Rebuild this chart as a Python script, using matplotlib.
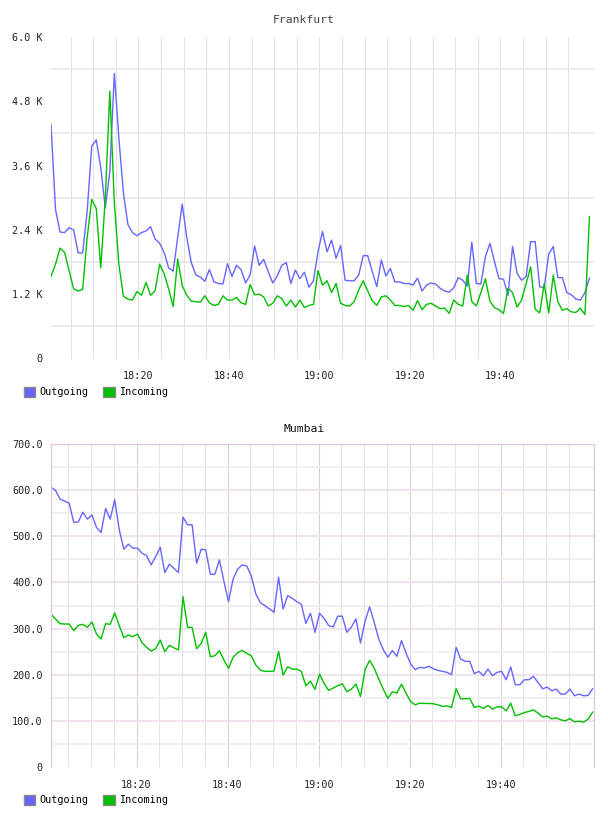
import pandas as pd
import matplotlib
matplotlib.use("Agg")
import matplotlib.pyplot as plt
from matplotlib.patches import Patch

# Frankfurt traffic, in K
frankfurt_out = [4.37, 2.78, 2.36, 2.35, 2.44, 2.40, 1.97, 1.97, 2.75, 3.96, 4.08, 3.56, 2.81, 3.49, 5.32,
                 4.11, 3.09, 2.50, 2.35, 2.29, 2.35, 2.38, 2.46, 2.23, 2.15, 1.98, 1.69, 1.63, 2.26, 2.88,
                 2.26, 1.79, 1.56, 1.52, 1.44, 1.66, 1.43, 1.40, 1.39, 1.77, 1.53,
                 1.74, 1.66, 1.41, 1.56, 2.10, 1.74, 1.85, 1.62, 1.41, 1.54, 1.74, 1.79, 1.40, 1.65, 1.49,
                 1.61, 1.33, 1.45, 1.99, 2.37, 1.99, 2.21, 1.87, 2.11, 1.46, 1.45, 1.45, 1.56, 1.92, 1.92,
                 1.62, 1.34, 1.84, 1.54, 1.68, 1.43, 1.43, 1.40, 1.40, 1.37,
                 1.50, 1.26, 1.37, 1.41, 1.39, 1.31, 1.26, 1.24, 1.32, 1.51, 1.46, 1.35, 2.17, 1.40, 1.39,
                 1.90, 2.15, 1.81, 1.49, 1.48, 1.18, 2.09, 1.59, 1.46, 1.53, 2.18, 2.18, 1.34, 1.32, 1.95,
                 2.09, 1.51, 1.51, 1.23, 1.19, 1.11, 1.09, 1.23, 1.50]
frankfurt_in = [1.53, 1.76, 2.06, 1.98, 1.64, 1.30, 1.26, 1.29, 2.26, 2.97, 2.80, 1.69, 3.00, 4.99, 2.90,
                1.76, 1.16, 1.11, 1.09, 1.25, 1.18, 1.42, 1.18, 1.26, 1.76, 1.58, 1.30, 0.97, 1.86, 1.36,
                1.18, 1.07, 1.06, 1.05, 1.17, 1.04, 0.99, 1.01, 1.17, 1.09, 1.09,
                1.14, 1.04, 1.01, 1.38, 1.19, 1.20, 1.15, 0.98, 1.03, 1.17, 1.12, 0.98, 1.09, 0.96, 1.09,
                0.95, 0.99, 1.01, 1.64, 1.37, 1.45, 1.23, 1.40, 1.03, 0.99, 0.98, 1.06, 1.28, 1.45, 1.26,
                1.08, 0.99, 1.15, 1.17, 1.09, 0.99, 0.99, 0.97, 0.99, 0.90,
                1.08, 0.91, 1.01, 1.03, 0.98, 0.93, 0.94, 0.84, 1.09, 1.01, 0.98, 1.56, 1.06, 0.98, 1.23,
                1.49, 1.07, 0.95, 0.91, 0.84, 1.31, 1.23, 0.96, 1.09, 1.40, 1.71, 0.92, 0.85, 1.40, 0.85,
                1.56, 1.06, 0.90, 0.93, 0.87, 0.86, 0.94, 0.82, 2.65]

# Mumbai traffic
mumbai_out = [606.6, 599.3, 580.5, 576.2, 571.9, 529.9, 531.3, 552.3, 537.1, 546.5, 519.0, 508.2, 560.3,
              537.1, 579.1, 514.0, 472.0, 482.9, 474.2, 474.2, 463.3, 458.2, 438.0, 456.1, 476.3, 421.3,
              439.4, 430.7, 421.3, 541.5, 524.8, 524.8, 441.6, 472.0, 470.5, 417.7, 417.7, 448.8, 401.8,
              358.4, 406.9, 428.6, 438.0, 435.8, 414.1, 375.0, 356.2, 349.7, 342.5, 335.2, 411.2, 342.5,
              371.4, 365.6, 358.4, 352.6, 311.4, 333.1, 291.8, 333.1, 322.2,
              306.5, 303.6, 326.8, 326.8, 292.0, 302.9, 321.0, 268.8, 315.9, 347.1, 313.8, 277.5, 254.4,
              237.7, 252.2, 239.9, 273.9, 247.1, 223.9, 210.9, 215.9, 214.5, 218.1, 213.1, 209.4, 207.3,
              205.1, 200.0, 259.4, 234.1, 229.0, 229.0, 202.2, 207.3, 197.8, 212.3, 197.8, 205.1, 207.3,
              189.1, 216.7, 178.3, 178.3, 189.1, 189.1, 196.4, 183.3, 169.6, 173.2, 165.2, 168.9, 158.0,
              158.0, 168.9, 154.4, 158.0, 154.4, 155.1, 169.6]
mumbai_in = [331.6, 320.8, 310.6, 309.9, 309.9, 295.4, 307.0, 309.2, 302.7, 314.2, 288.2, 277.3, 310.6,
             309.2, 333.8, 306.3, 280.2, 286.0, 282.4, 288.2, 269.4, 259.3, 251.3, 256.4, 275.2, 249.9,
             263.6, 258.5, 253.5, 369.2, 302.7, 302.7, 256.4, 267.9, 291.8, 239.0, 241.2, 252.0, 231.8,
             213.7, 237.6, 247.7, 252.7, 246.2, 241.2, 220.9, 210.0, 207.2, 207.2, 207.9, 250.6, 199.2,
             217.3, 212.2, 212.2, 207.2, 176.0, 186.2, 168.1, 201.4, 181.0,
             165.9, 171.0, 176.1, 180.4, 163.0, 168.9, 179.7, 152.9, 210.9, 231.2, 214.5, 190.6, 168.9,
             148.6, 163.0, 160.2, 179.7, 160.2, 142.0, 134.8, 138.4, 137.7, 137.7, 137.0, 134.8, 131.2,
             132.6, 129.0, 169.6, 147.8, 147.8, 148.6, 129.0, 131.9, 126.8, 133.3, 125.4, 130.4, 130.4,
             121.7, 138.4, 110.9, 113.8, 118.1, 120.3, 123.9, 116.7, 108.7, 110.2, 104.4, 106.5, 102.2,
             100.0, 105.1, 97.8, 99.3, 97.1, 103.6, 118.8]

frankfurt_yticks = [0, 1.2, 2.4, 3.6, 4.8, 6.0]
frankfurt_ylabels = ["0", "1.2 K", "2.4 K", "3.6 K", "4.8 K", "6.0 K"]
mumbai_yticks = [0, 100, 200, 300, 400, 500, 600, 700]
mumbai_ylabels = ["0", "100.0", "200.0", "300.0", "400.0", "500.0", "600.0", "700.0"]
time_labels = ["18:20", "18:40", "19:00", "19:20", "19:40"]

DAY = "2024-01-01 "
BLUE = "#6666ff"
GREEN = "#00c000"
PURPLE = "#dfcadf"
plt.rcParams['font.family'] = "DejaVu Sans Mono"

fig = plt.figure(figsize=(6.08, 8.16), dpi=100)


def setup_axes(ax, start, span_min, yticks, ylabels, ymax):
    t0 = pd.Timestamp(DAY + start)
    ax.set_xlim(t0, t0 + pd.Timedelta(minutes=span_min))
    ax.set_ylim(0, ymax)
    ax.set_yticks(yticks)
    ax.set_yticklabels(ylabels)
    ax.set_xticks([pd.Timestamp(DAY + t) for t in time_labels])
    ax.set_xticklabels(time_labels)
    ax.tick_params(length=0, labelsize=7.3, colors="#222222")
    ax.tick_params(axis="y", pad=6)
    ax.tick_params(axis="x", pad=9)
    for s in ax.spines.values():
        s.set_visible(False)
    # 5 minute grid, stops before the right edge
    grid = pd.date_range(DAY + "18:05", DAY + "19:55", freq="5min")
    return t0, grid


# Frankfurt
ax1 = fig.add_axes([51 / 608, 1 - 358.5 / 816, 543 / 608, 321.5 / 816])
t0, grid = setup_axes(ax1, "18:00:40", 120, frankfurt_yticks, frankfurt_ylabels, 6.0)
for g in grid:
    ax1.axvline(g, color="#e2e2e2", lw=0.75, zorder=0)
for y in [0.6, 1.8, 3.0, 4.2, 5.4]:
    ax1.axhline(y, color="#e6e6e6", lw=1.1, zorder=0)
ax1.plot(pd.date_range(t0, periods=len(frankfurt_out), freq="1min"), frankfurt_out, color=BLUE, lw=1.0)
ax1.plot(pd.date_range(t0, periods=len(frankfurt_in), freq="1min"), frankfurt_in, color=GREEN, lw=1.0)

# Mumbai
ax2 = fig.add_axes([51 / 608, 1 - 767 / 816, 543 / 608, 323 / 816])
t0, grid = setup_axes(ax2, "18:01:12", 119.3, mumbai_yticks, mumbai_ylabels, 700)
for g in grid:
    major = g.minute % 20 == 0
    ax2.axvline(g, color=PURPLE if major else "#e4e4e4", lw=0.75, zorder=0)
for y in range(50, 700, 50):
    ax2.axhline(y, color="#eee0ee" if y % 100 == 0 else "#efefef", lw=1.3, zorder=0)
for side in ["left", "top", "right"]:
    ax2.spines[side].set_visible(True)
    ax2.spines[side].set_color(PURPLE)
    ax2.spines[side].set_linewidth(1)
ax2.plot(pd.date_range(t0, periods=len(mumbai_out), freq="1min"), mumbai_out, color=BLUE, lw=1.0)
ax2.plot(pd.date_range(t0, periods=len(mumbai_in), freq="1min"), mumbai_in, color=GREEN, lw=1.0)

fig.text(0.5, 1 - 20 / 816, "Frankfurt", ha="center", va="center", fontsize=8.2, color="#444444")
fig.text(0.5, 1 - 429 / 816, "Mumbai", ha="center", va="center", fontsize=8.2, color="#111111")

handles = [Patch(facecolor=BLUE, edgecolor="#888888", lw=1, label="Outgoing"),
           Patch(facecolor=GREEN, edgecolor="#888888", lw=1, label="Incoming")]
for ypix in [392, 800]:
    fig.legend(handles=handles, loc="center left", bbox_to_anchor=(24 / 608, 1 - ypix / 816),
               ncol=2, frameon=False, fontsize=7.3, handlelength=1.1, handleheight=1.1,
               handletextpad=0.4, columnspacing=1.5, borderpad=0, borderaxespad=0)

fig.savefig("out.png", dpi=100)
